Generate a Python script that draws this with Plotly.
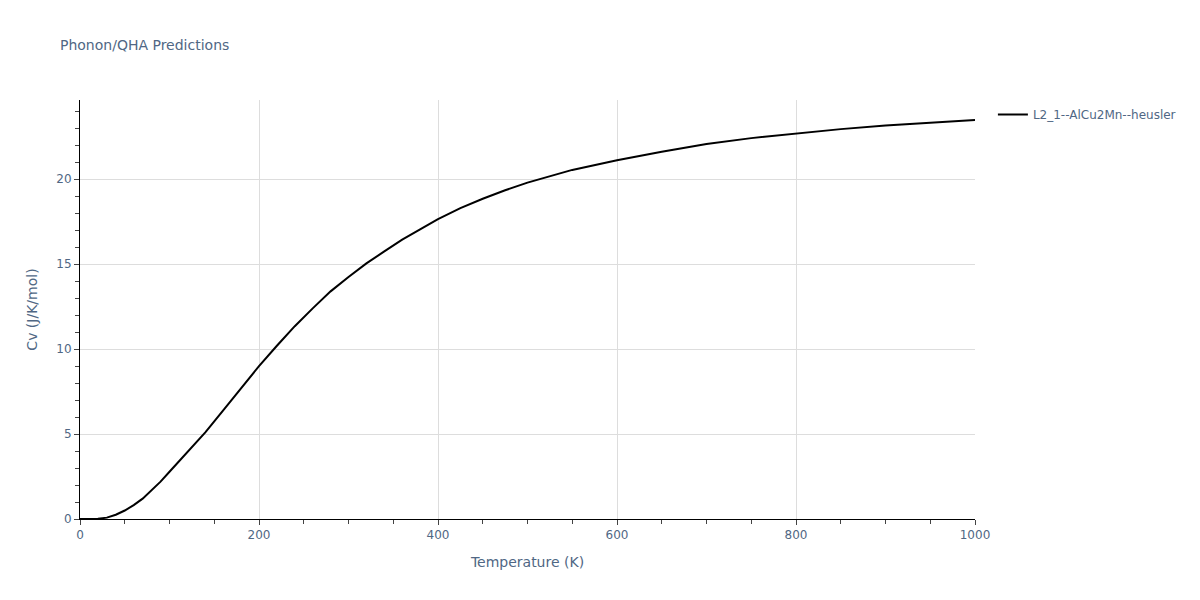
import plotly.graph_objects as go

# temperature (K) and heat capacity
temperature = [0, 10, 20, 30, 40, 50, 60, 70, 80, 90, 100,
               120, 140, 160, 180, 200, 220, 240, 260, 280, 300,
               320, 340, 360, 380, 400, 425, 450, 475, 500, 550, 600, 650,
               700, 750, 800, 850, 900, 950, 1000]
cv = [0.0, 0.0, 0.02, 0.08, 0.25, 0.5, 0.82, 1.2, 1.68, 2.2, 2.78,
      3.95, 5.1, 6.4, 7.7, 9.0, 10.2, 11.35, 12.4, 13.4, 14.25,
      15.05, 15.75, 16.45, 17.05, 17.65, 18.3, 18.85, 19.35, 19.8, 20.55, 21.12, 21.62,
      22.08, 22.42, 22.7, 22.95, 23.17, 23.34, 23.49]
series_name = 'L2_1--AlCu2Mn--heusler'

fig = go.Figure()
fig.add_trace(go.Scatter(x=temperature, y=cv, mode='lines', name=series_name,
                         line=dict(color='black', width=2)))

axis_style = dict(showline=True, linecolor='black', linewidth=1,
                  ticks='outside', tickcolor='#444', ticklen=5,
                  showgrid=True, gridcolor='#dddddd', zeroline=False,
                  title_font=dict(size=14))

# page body has an 8px margin, so the figure is sized to end at the window edge
fig.update_layout(
    template='plotly_white',
    width=1192, height=592,
    margin=dict(l=72, r=225, t=92, b=81),
    font=dict(family='Verdana, DejaVu Sans, sans-serif', size=12, color='#506784'),
    title=dict(text='Phonon/QHA Predictions', font=dict(size=14),
               x=0.0436, xanchor='left', y=0.9375, yanchor='middle'),
    showlegend=True,
    xaxis=dict(title='Temperature (K)', range=[0, 1000], dtick=200,
               minor=dict(dtick=50, ticks='outside', ticklen=4, tickcolor='#444', showgrid=False),
               **axis_style),
    yaxis=dict(title='Cv (J/K/mol)', range=[0, max(cv) * 1.05], dtick=5,
               minor=dict(dtick=1, ticks='outside', ticklen=4, tickcolor='#444', showgrid=False),
               **axis_style),
)

fig.write_html("out.html")
